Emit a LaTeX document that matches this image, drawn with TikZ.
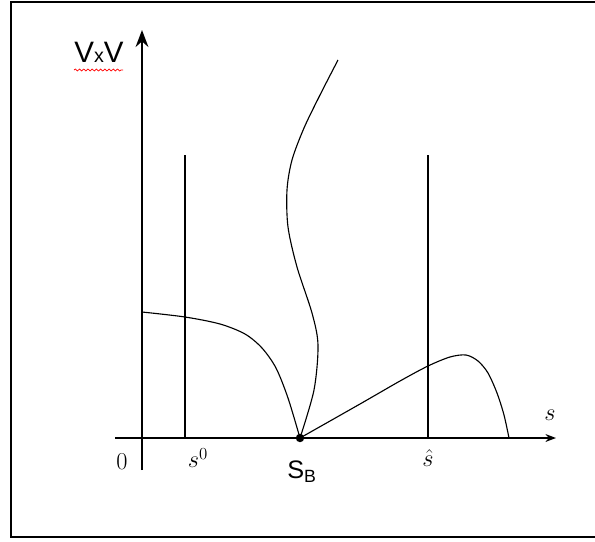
\documentclass[tikz,border=0pt]{standalone}
\usepackage{fontspec}
\newfontfamily\arialfont{Liberation Sans}
\usetikzlibrary{arrows.meta,decorations.pathmorphing}

\tikzset{
    curve/.style={line width=0.8pt},
    level/.style={line width=1pt},
    dot/.style={circle, fill=black, inner sep=0pt, minimum size=6pt},
    lbl/.style={font=\fontsize{18}{18}\selectfont, inner sep=0pt},
}

\begin{document}
\begin{tikzpicture}[x=0.025cm, y=-0.025cm, >=Stealth]
    \useasboundingbox (0,0) rectangle (595,542);
    % Frame (right side is outside the picture)
    \draw[line width=1.4pt] (600,2) -- (11,2) -- (11,537) -- (600,537);
    % Axes
    \draw[->, line width=2pt] (142,470) -- (142,30);
    \draw[->, line width=1pt] (115,438) -- (556,438);
    \node[inner sep=0pt, font=\arialfont\fontsize{21}{21}\selectfont] (vxv) at (99,52)
        {V{\fontsize{14}{14}\selectfont x}V};
    \draw[red, line width=0.5pt, decorate,
          decoration={snake, amplitude=0.7pt, segment length=3pt}] (74,70) -- (123,70);
    \node[lbl] (s) at (550,415) {$s$};
    \node[lbl] (zero) at (122,462) {$0$};
    % Bounds
    \node[lbl] (s0) at (198,458) {$s^0$};
    \node[lbl] (shat) at (428,458) {$\hat{s}$};
    \draw[level] (185,155) -- (185,438);
    \draw[level] (428,155) -- (428,438);
    % Point S_B
    \node[dot] (SB) at (300,438) {};
    \node[inner sep=0pt, font=\arialfont\fontsize{18}{18}\selectfont] (sblabel) at (302,472)
        {S\textsubscript{B}};
    % Left branch, falling into S_B
    \draw[curve] plot[smooth] coordinates
        {(142,312) (185,317) (220,324) (245,334) (262,348) (276,368) (288,398) (300,438)};
    % Wavy branch going up
    \draw[curve] plot[smooth] coordinates
        {(300,438) (314,390) (318,345) (312,313) (297,267) (288,227) (287,190) (292,160) (304,128) (320,95) (338,60)};
    % Right hump
    \draw[curve] plot[smooth] coordinates
        {(300,438) (360,404) (400,381) (428,366) (450,357) (466,355) (478,361) (488,373) (497,393) (504,415) (509,438)};
\end{tikzpicture}
\end{document}
